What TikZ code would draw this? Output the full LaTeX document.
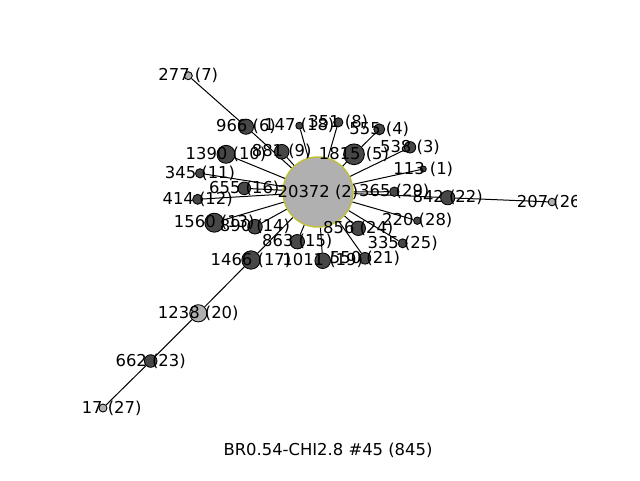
\documentclass[tikz,border=0pt]{standalone}
\usepackage{fontspec}
\setmainfont{DejaVu Sans}
\usetikzlibrary{backgrounds}
\definecolor{dk}{HTML}{474747}
\definecolor{lt}{HTML}{B0B0B0}
\definecolor{rim}{HTML}{BFBF3F}
\begin{document}
\begin{tikzpicture}[x=0.75pt,y=-0.75pt,
  vtx/.style={circle,draw=black,line width=0.65pt,inner sep=0pt,minimum size=#1*1.5pt},
  dkv/.style={vtx=#1,fill=dk},
  ltv/.style={vtx=#1,fill=lt},
  hub/.style={vtx=#1,fill=lt,draw=rim,line width=1.1pt},
  lbl/.style={font=\fontsize{12.3}{14}\selectfont,inner sep=0pt,text=black},
  link/.style={draw=black,line width=0.75pt}]
\useasboundingbox (0,0) rectangle (640,480);
% vertices
\foreach \n/\x/\y/\r/\s in {
  7/188.3/75.7/4/ltv, 6/246/126.7/7.6/dkv, 18/299.3/125.7/3.5/dkv,
  8/338.3/122.3/4.6/dkv, 4/379.3/129.3/5.5/dkv, 10/226/154.3/9/dkv,
  9/281.7/151.7/7.3/dkv, 5/354/154.3/10.4/dkv, 3/410/147.3/5.7/dkv,
  1/423.3/169/3/dkv, 11/200/173.3/4.6/dkv, 16/244.3/188.3/6.3/dkv,
  2/318/192/35/hub, 29/394.3/191.7/4.7/dkv, 22/447.7/197.7/7.1/dkv,
  26/552/202/3.8/ltv, 12/197.7/199.3/5/dkv, 13/214.3/222.7/9.5/dkv,
  14/255/226.7/7.3/dkv, 15/297.3/241.7/7.2/dkv, 24/358.3/228.3/7.2/dkv,
  28/417.3/220.7/3.7/dkv, 25/402.7/243.3/4.5/dkv, 17/251/260/9.2/dkv,
  19/322.7/260.7/7.8/dkv, 21/365/258.3/5.8/dkv, 20/198.3/313.3/8.6/ltv,
  23/150.7/361/6.3/dkv, 27/103/408/4/ltv}
  \node[\s=\r] (v\n) at (\x,\y) {};
% edges
\begin{scope}[on background layer]
\foreach \a/\b in {7/6, 6/2, 18/2, 8/2, 4/5, 5/2, 10/2, 9/2, 3/2, 1/2,
  11/2, 16/2, 29/2, 22/2, 26/22, 12/2, 13/2, 14/2, 15/2, 24/2, 28/2,
  25/2, 17/2, 19/2, 21/2, 20/17, 23/20, 27/23}
  \draw[link] (v\a) -- (v\b);
\end{scope}
% labels
\begin{scope}
\clip (80,57.6) rectangle (576,427.2);
\foreach \n/\t in {7/277 (7), 6/966 (6), 18/147 (18), 8/351 (8), 4/555 (4),
  10/1390 (10), 9/881 (9), 5/1815 (5), 3/538 (3), 1/113 (1), 11/345 (11),
  16/655 (16), 2/20372 (2), 29/365 (29), 22/842 (22), 26/207 (26),
  12/414 (12), 13/1560 (13), 14/890 (14), 15/863 (15), 24/856 (24),
  28/220 (28), 25/335 (25), 17/1466 (17), 19/1011 (19), 21/550 (21),
  20/1238 (20), 23/662 (23)}
  \node[lbl] (l\n) at (v\n.center) {\t};
\node[lbl] (l27) at ([xshift=6.5]v27.center) {17 (27)};
\end{scope}
\node[lbl] (title) at (328,450) {BR0.54-CHI2.8 \#45 (845)};
\end{tikzpicture}
\end{document}
